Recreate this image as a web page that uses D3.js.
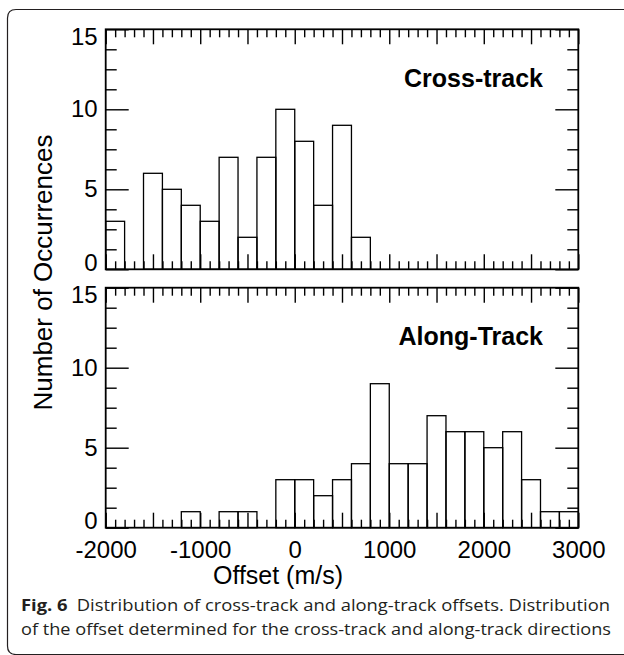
<!DOCTYPE html>
<html>
<head>
<meta charset="utf-8">
<script src="https://cdn.jsdelivr.net/npm/d3@7"></script>
<style>
  body { margin: 0; background: #fff; }
  svg { display: block; }
  .tick line { stroke: #000; stroke-width: 1.4; }
  .tick text { font-family: "Liberation Sans", Arial, sans-serif; font-size: 24px; fill: #000; }
</style>
</head>
<body>
<div class="chart"></div>
<script>
// bin start of every 200 m/s bin
var binStarts = [-2000, -1800, -1600, -1400, -1200, -1000, -800, -600, -400, -200,
                 0, 200, 400, 600, 800, 1000, 1200, 1400, 1600, 1800,
                 2000, 2200, 2400, 2600, 2800];
var binWidth = 200;

// counts per bin
var crossTrack = [3, 0, 6, 5, 4, 3, 7, 2, 7, 10, 8, 4, 9, 2, 0, 0, 0, 0, 0, 0, 0, 0, 0, 0, 0];
var alongTrack = [0, 0, 0, 0, 1, 0, 1, 1, 0, 3, 3, 2, 3, 4, 9, 4, 4, 7, 6, 6, 5, 6, 3, 1, 1];

var panelNames = ["Cross-track", "Along-Track"];
var xTickLabels = [-2000, -1000, 0, 1000, 2000, 3000];
var yTickLabels = [0, 5, 10, 15];

var width = 624, height = 655;
var margin = {left: 105.7, right: 624 - 578.3};
var panelTops = [29.3, 287.7];
var panelHeight = 240;

var svg = d3.select(".chart")
    .append("svg")
    .attr("width", width)
    .attr("height", height);

// outer frame of the figure (rounded at the left corners)
svg.append("path")
    .attr("d", "M624,9.5 H16 Q7.5,9.5 7.5,18 V646 Q7.5,654.5 16,654.5 H624")
    .attr("fill", "none")
    .attr("stroke", "#231f20")
    .attr("stroke-width", 1.2);

var xScale = d3.scaleLinear()
    .domain([-2000, 3000])
    .range([margin.left, width - margin.right]);

var series = [crossTrack, alongTrack];

series.forEach(function(counts, p) {
    var top = panelTops[p];
    var yScale = d3.scaleLinear().domain([0, 15]).range([top + panelHeight, top]);
    var g = svg.append("g");

    // histogram bars
    var bins = binStarts.map(function(s, i) { return {x0: s, n: counts[i]}; })
        .filter(function(d) { return d.n > 0; });

    g.selectAll(".bar")
        .data(bins)
        .enter().append("rect")
        .attr("class", "bar")
        .attr("x", function(d) { return xScale(d.x0); })
        .attr("width", function(d) { return xScale(d.x0 + binWidth) - xScale(d.x0); })
        .attr("y", function(d) { return yScale(d.n); })
        .attr("height", function(d) { return yScale(0) - yScale(d.n); })
        .attr("fill", "none")
        .attr("stroke", "#000")
        .attr("stroke-width", 1.3);

    // x axis: major ticks every 500, minor every 100
    var xMajor = d3.range(-2000, 3001, 500);
    var xMinor = d3.range(-2000, 3001, 100).filter(function(v) { return v % 500 != 0; });

    var bottomMajor = d3.axisBottom(xScale).tickValues(xMajor).tickSize(-15).tickPadding(13)
        .tickFormat(function(v) {
            return (p == 1 && xTickLabels.indexOf(v) >= 0) ? v : "";
        });
    var bottomMinor = d3.axisBottom(xScale).tickValues(xMinor).tickSize(-8).tickFormat("");
    var topMajor = d3.axisTop(xScale).tickValues(xMajor).tickSize(-15).tickFormat("");
    var topMinor = d3.axisTop(xScale).tickValues(xMinor).tickSize(-8).tickFormat("");

    g.append("g").attr("transform", "translate(0," + (top + panelHeight) + ")").call(bottomMajor);
    g.append("g").attr("transform", "translate(0," + (top + panelHeight) + ")").call(bottomMinor);
    g.append("g").attr("transform", "translate(0," + top + ")").call(topMajor);
    g.append("g").attr("transform", "translate(0," + top + ")").call(topMinor);

    // y axis: major every 5, minor every 1.25
    var yMinor = d3.range(0, 15.01, 1.25).filter(function(v) { return v % 5 != 0; });

    var leftMajor = d3.axisLeft(yScale).tickValues(yTickLabels).tickSize(-23).tickPadding(8);
    var leftMinor = d3.axisLeft(yScale).tickValues(yMinor).tickSize(-11).tickFormat("");
    var rightMajor = d3.axisRight(yScale).tickValues(yTickLabels).tickSize(-23).tickFormat("");
    var rightMinor = d3.axisRight(yScale).tickValues(yMinor).tickSize(-11).tickFormat("");

    var yAxisG = g.append("g").attr("transform", "translate(" + margin.left + ",0)").call(leftMajor);
    g.append("g").attr("transform", "translate(" + margin.left + ",0)").call(leftMinor);
    g.append("g").attr("transform", "translate(" + (width - margin.right) + ",0)").call(rightMajor);
    g.append("g").attr("transform", "translate(" + (width - margin.right) + ",0)").call(rightMinor);

    // keep end labels inside the panel
    yAxisG.selectAll(".tick text")
        .attr("dy", function(v) {
            if (v == 0) return "0.05em";
            if (v == 15) return "0.62em";
            return "0.32em";
        });

    svg.selectAll(".domain").remove();

    // panel box
    g.append("rect")
        .attr("x", margin.left)
        .attr("y", top)
        .attr("width", width - margin.right - margin.left)
        .attr("height", panelHeight)
        .attr("fill", "none")
        .attr("stroke", "#000")
        .attr("stroke-width", 1.8);

    // panel name
    g.append("text")
        .attr("x", 543)
        .attr("y", top + 57.5)
        .attr("text-anchor", "end")
        .style("font-family", "'Liberation Sans', Arial, sans-serif")
        .style("font-size", "25px")
        .style("font-weight", "bold")
        .text(panelNames[p]);
});

// axis titles
svg.append("text")
    .attr("transform", "translate(52,272.5) rotate(-90)")
    .attr("text-anchor", "middle")
    .style("font-family", "'Liberation Sans', Arial, sans-serif")
    .style("font-size", "26px")
    .text("Number of Occurrences");

svg.append("text")
    .attr("x", 278)
    .attr("y", 584)
    .attr("text-anchor", "middle")
    .style("font-family", "'Liberation Sans', Arial, sans-serif")
    .style("font-size", "25px")
    .text("Offset (m/s)");

// caption
var cap1 = svg.append("text")
    .attr("x", 21)
    .attr("y", 611)
    .attr("textLength", 589)
    .attr("lengthAdjust", "spacingAndGlyphs")
    .style("font-family", "'Open Sans', sans-serif")
    .style("font-size", "16px")
    .style("fill", "#231f20");
cap1.append("tspan").style("font-weight", "bold").text("Fig. 6");
cap1.append("tspan").text("\u2002Distribution of cross-track and along-track offsets. Distribution");

svg.append("text")
    .attr("x", 21)
    .attr("y", 635)
    .attr("textLength", 590)
    .attr("lengthAdjust", "spacingAndGlyphs")
    .style("font-family", "'Open Sans', sans-serif")
    .style("font-size", "16px")
    .style("fill", "#231f20")
    .text("of the offset determined for the cross-track and along-track directions");
</script>
</body>
</html>
